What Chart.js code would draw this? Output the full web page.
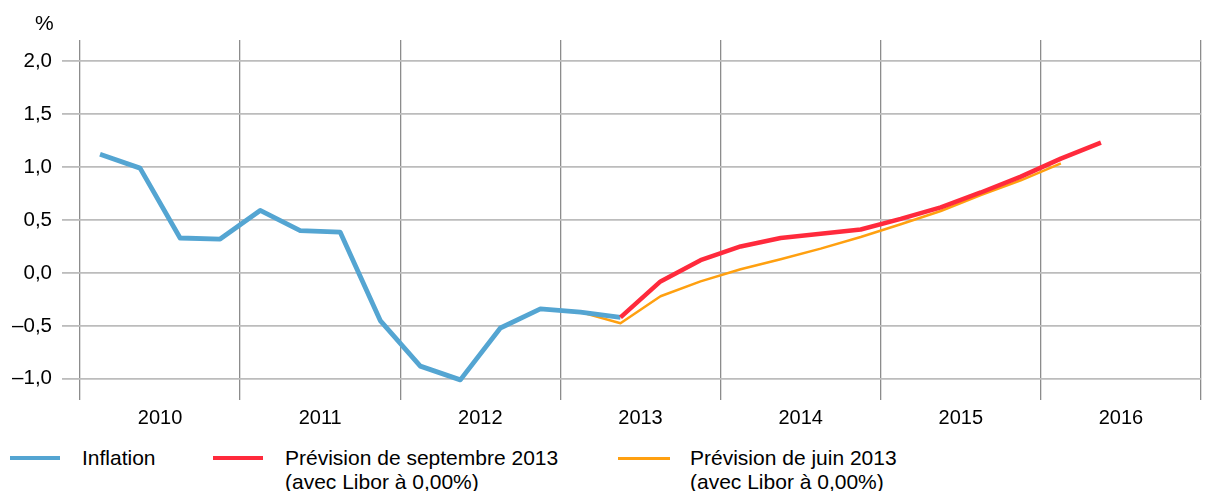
<!DOCTYPE html>
<html>
<head>
<meta charset="utf-8">
<script src="https://cdn.jsdelivr.net/npm/chart.js@4/dist/chart.umd.min.js"></script>
<style>
  body { margin: 0; background: #fff; }
  #wrap { position: relative; width: 1219px; height: 491px; font-family: "Liberation Sans", Arial, sans-serif; color: #000; }
  #box { position: absolute; left: 0; top: 0; width: 1219px; height: 432px; }
  .sw { position: absolute; height: 4px; }
  .lb { position: absolute; font-size: 21px; line-height: 24px; white-space: nowrap; }
</style>
</head>
<body>
<div id="wrap">
  <div id="box"><canvas id="myChart"></canvas></div>
  <div class="sw" style="left:10px;top:456px;width:50px;background:#54a5d2;"></div>
  <div class="lb" style="left:82px;top:446px;">Inflation</div>
  <div class="sw" style="left:213px;top:456px;width:50px;background:#ff2a3c;"></div>
  <div class="lb" style="left:285px;top:446px;">Prévision de septembre 2013<br>(avec Libor à 0,00%)</div>
  <div class="sw" style="left:618px;top:457px;width:52px;height:3px;background:#ffa010;"></div>
  <div class="lb" style="left:690px;top:446px;">Prévision de juin 2013<br>(avec Libor à 0,00%)</div>
</div>
<script>
// quarters 2010T1 .. 2016T4
let years = ["2010", "2011", "2012", "2013", "2014", "2015", "2016"];
let yTicks = [-1, -0.5, 0, 0.5, 1, 1.5, 2];

let inflation = [1.12, 0.99, 0.33, 0.32, 0.59, 0.40, 0.385, -0.45,
  -0.88, -1.01, -0.52, -0.34, -0.37, -0.42];
// september 2013 forecast starts at 2013T2
let prevSept = [null, null, null, null, null, null, null, null, null, null, null, null, null,
  -0.42, -0.08, 0.12, 0.25, 0.33, 0.37, 0.41, 0.51, 0.62, 0.76, 0.91, 1.08, 1.23];
// june 2013 forecast starts at 2013T1
let prevJuin = [null, null, null, null, null, null, null, null, null, null, null, null,
  -0.37, -0.475, -0.22, -0.08, 0.035, 0.13, 0.23, 0.34, 0.46, 0.585, 0.735, 0.875, 1.035];

function toPoints(arr) {
  let pts = [];
  arr.forEach(function (v, i) {
    if (v !== null) pts.push({ x: i + 0.5, y: v });
  });
  return pts;
}

function fmt(v) {
  return v.toFixed(1).replace(".", ",").replace("-", "–");
}

let percentLabel = {
  id: "percentLabel",
  afterDraw: function (chart) {
    let ctx = chart.ctx;
    ctx.save();
    ctx.font = '21px "Liberation Sans", Arial, sans-serif';
    ctx.fillStyle = "#000";
    ctx.textAlign = "left";
    ctx.textBaseline = "middle";
    ctx.fillText("%", 35, 24);
    ctx.restore();
  },
};

let myChart = document.getElementById("myChart").getContext("2d");

let chart = new Chart(myChart, {
  type: "line",
  data: {
    datasets: [
      {
        label: "Prévision de septembre 2013",
        data: toPoints(prevSept),
        borderColor: "#ff2a3c",
        borderWidth: 4.5,
        pointRadius: 0,
        borderJoinStyle: "round",
      },
      {
        label: "Inflation",
        data: toPoints(inflation),
        borderColor: "#54a5d2",
        borderWidth: 4.8,
        pointRadius: 0,
        borderJoinStyle: "round",
      },
      {
        label: "Prévision de juin 2013",
        data: toPoints(prevJuin),
        borderColor: "#ffa010",
        borderWidth: 2.5,
        pointRadius: 0,
        borderJoinStyle: "round",
      },
    ],
  },
  options: {
    responsive: true,
    maintainAspectRatio: false,
    animation: false,
    events: [],
    layout: { padding: { left: 0, right: 18, top: 40, bottom: 0 } },
    plugins: {
      legend: { display: false },
      tooltip: { enabled: false },
    },
    scales: {
      x: {
        type: "linear",
        min: 0,
        max: 28,
        afterBuildTicks: function (scale) {
          let t = [];
          for (let v = 0; v <= 28; v += 2) t.push({ value: v });
          scale.ticks = t;
        },
        afterFit: function (scale) {
          scale.height = 32;
        },
        border: { display: false },
        grid: {
          drawTicks: false,
          lineWidth: 1.3,
          color: function (c) {
            return c.tick && c.tick.value % 4 === 0 ? "#8c8c8c" : "rgba(0,0,0,0)";
          },
        },
        ticks: {
          autoSkip: false,
          maxRotation: 0,
          padding: 6,
          color: "#000",
          font: { family: '"Liberation Sans", Arial, sans-serif', size: 20 },
          callback: function (v) {
            return v % 4 === 2 ? years[(v - 2) / 4] : "";
          },
        },
      },
      y: {
        min: -1.2,
        max: 2.2,
        afterBuildTicks: function (scale) {
          scale.ticks = yTicks.map(function (v) { return { value: v }; });
        },
        afterFit: function (scale) {
          scale.width = 80;
        },
        border: { display: false },
        grid: {
          color: "#bcbcbc",
          lineWidth: 1.8,
          tickLength: 18,
        },
        ticks: {
          padding: 10,
          color: "#000",
          font: { family: '"Liberation Sans", Arial, sans-serif', size: 20.5 },
          callback: function (v) {
            return fmt(v);
          },
        },
      },
    },
  },
  plugins: [percentLabel],
});
</script>
</body>
</html>
